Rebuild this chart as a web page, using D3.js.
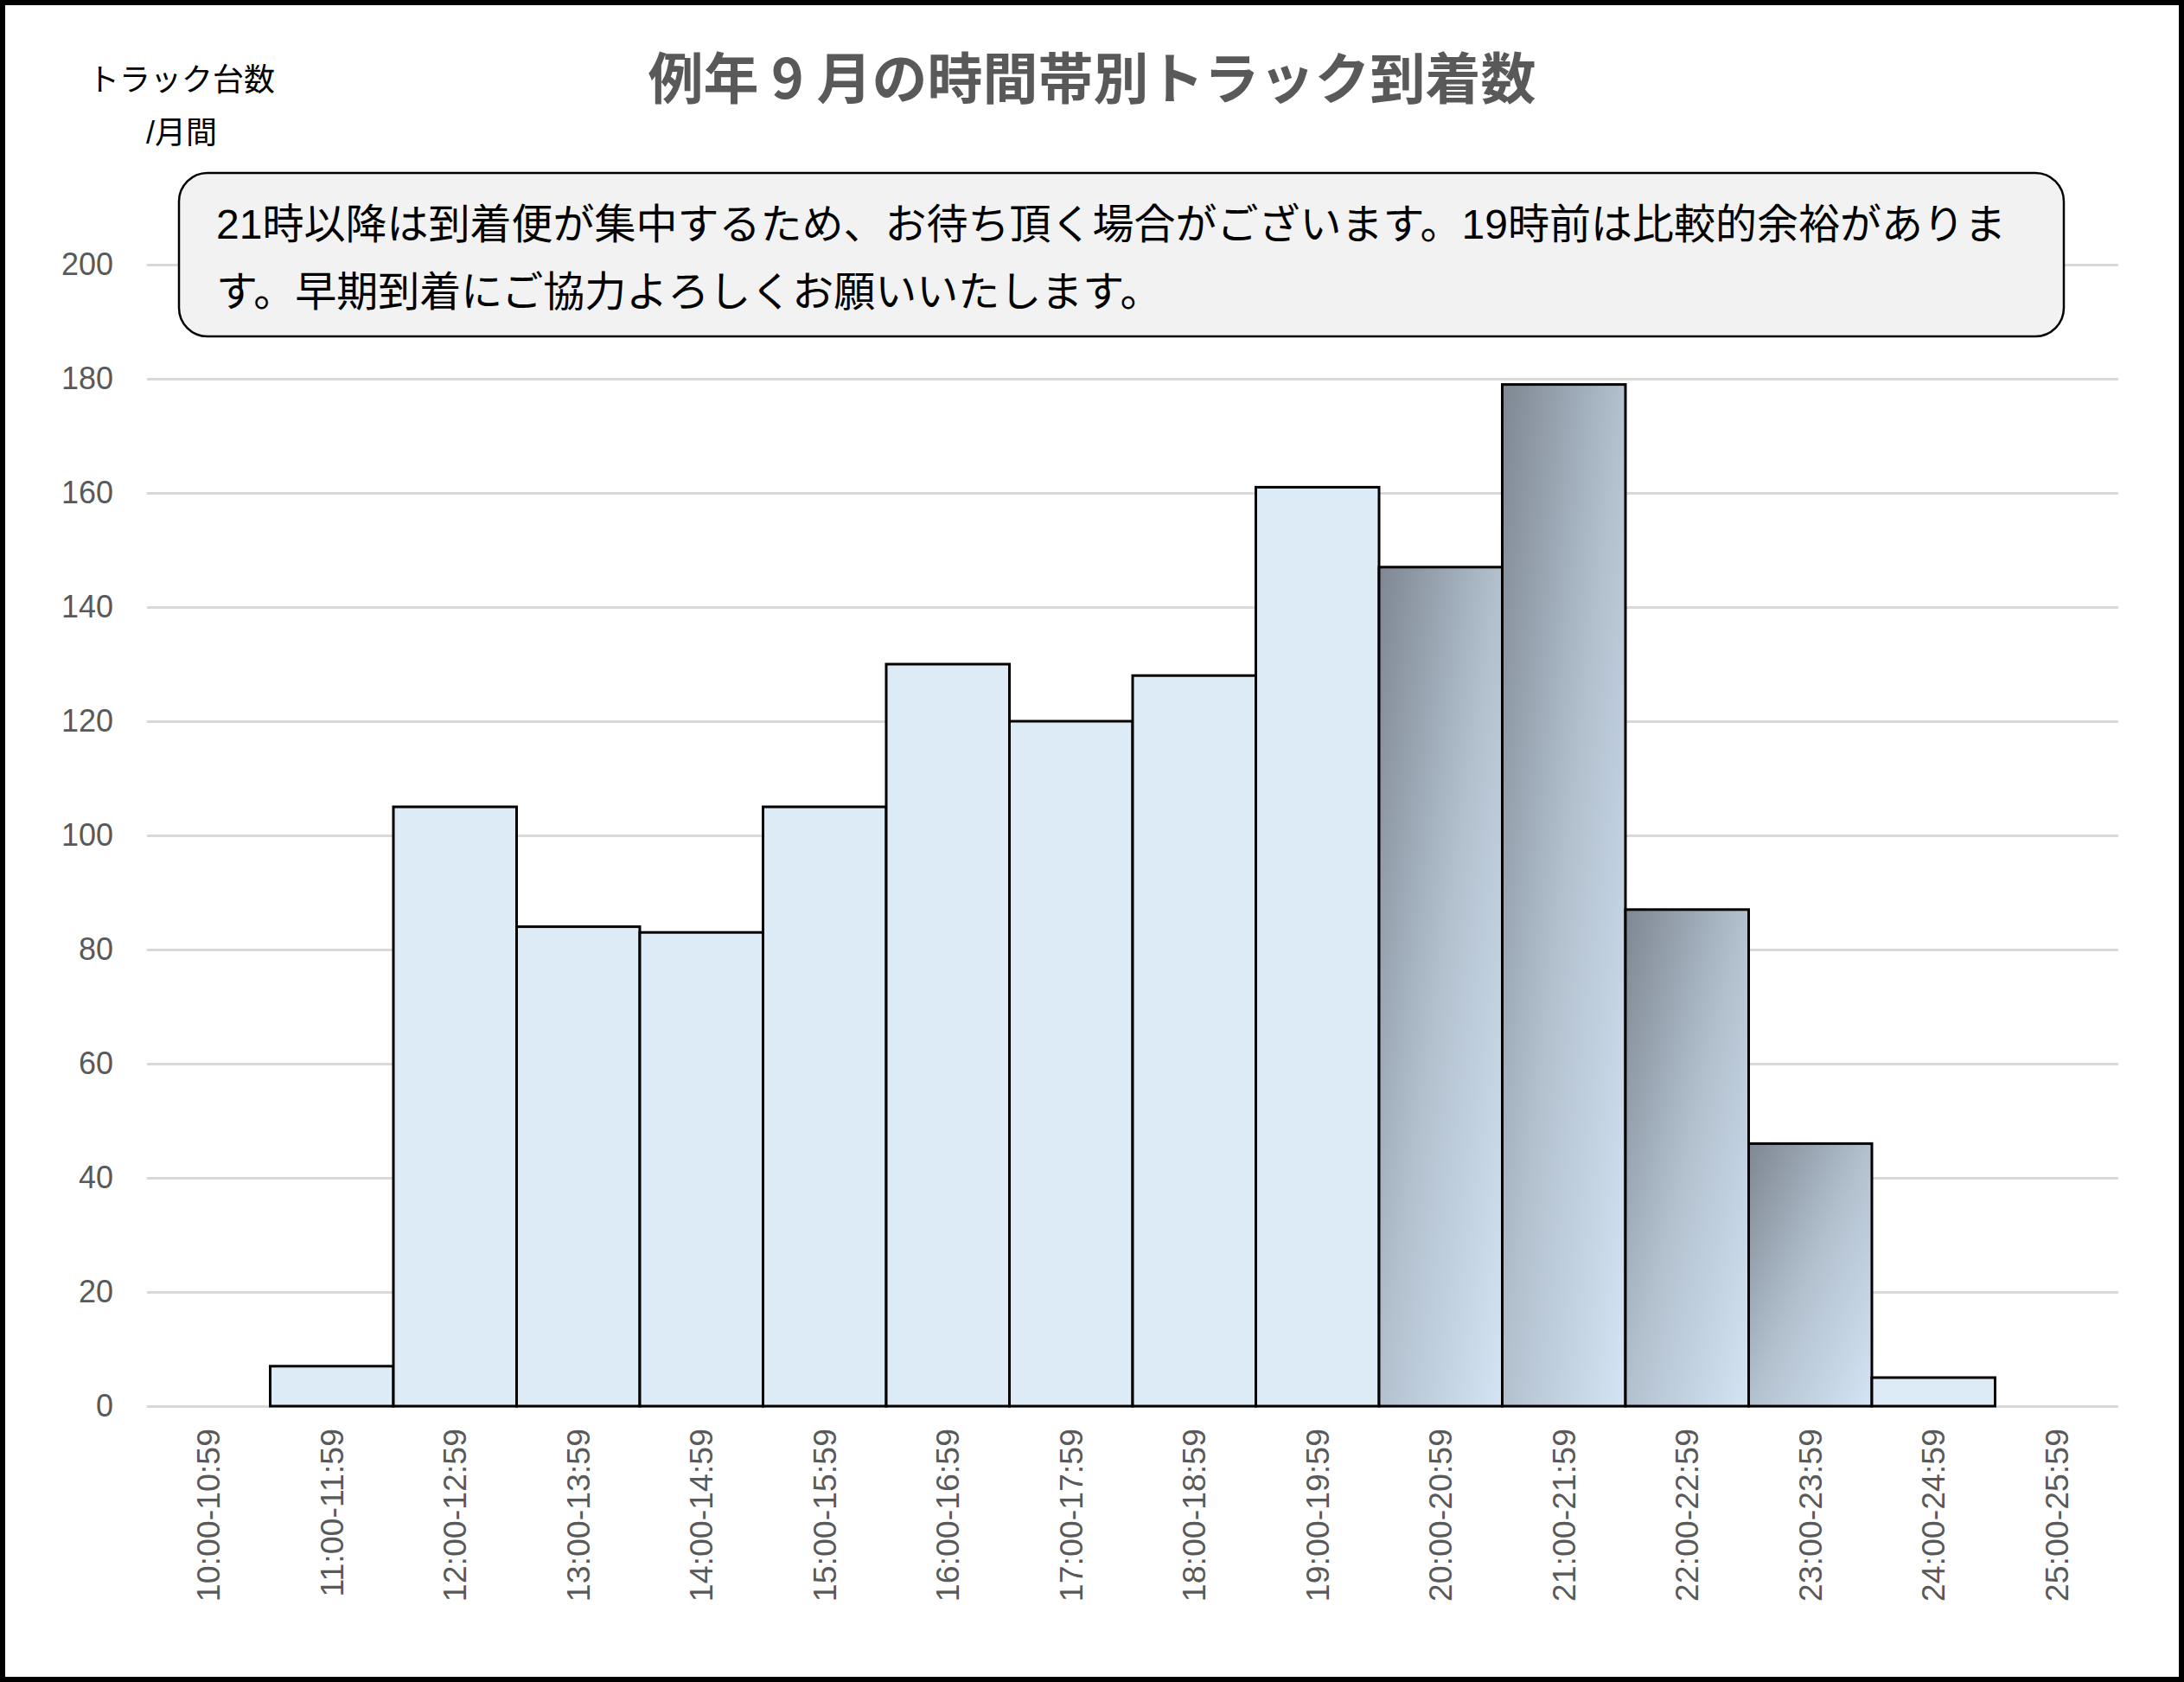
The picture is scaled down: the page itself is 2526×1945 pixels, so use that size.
<!DOCTYPE html>
<html lang="ja">
<head>
<meta charset="utf-8">
<title>例年9月の時間帯別トラック到着数</title>
<script src="https://cdn.jsdelivr.net/npm/d3@7"></script>
<style>
    body { margin: 0; background: #fff; }
    svg { display: block; }
    text { font-family: "Liberation Sans", "Noto Sans CJK JP", sans-serif; }
</style>
</head>
<body>
<div id="chart"></div>
<script>
// Data
const timeSlots = [
    '10:00-10:59', '11:00-11:59', '12:00-12:59', '13:00-13:59',
    '14:00-14:59', '15:00-15:59', '16:00-16:59', '17:00-17:59',
    '18:00-18:59', '19:00-19:59', '20:00-20:59', '21:00-21:59',
    '22:00-22:59', '23:00-23:59', '24:00-24:59', '25:00-25:59'
];
const truckCounts = [0, 7, 105, 84, 83, 105, 130, 120, 128, 161, 147, 179, 87, 46, 5, 0];
const peakSlots = ['20:00-20:59', '21:00-21:59', '22:00-22:59', '23:00-23:59'];
const yTicks = [0, 20, 40, 60, 80, 100, 120, 140, 160, 180, 200];

const titleText = '例年 9 月の時間帯別トラック到着数';
const yTitleLines = ['トラック台数', '/月間'];
const noteLines = [
    '21時以降は到着便が集中するため、お待ち頂く場合がございます。19時前は比較的余裕がありま',
    'す。早期到着にご協力よろしくお願いいたします。'
];

const W = 2526, H = 1945;
const margin = { top: 306, right: 76, bottom: 319, left: 170 };
const width = W - margin.left - margin.right;
const height = H - margin.top - margin.bottom;

const data = timeSlots.map((slot, i) => ({ slot: slot, count: truckCounts[i] }));

const svg = d3.select('#chart')
    .append('svg')
    .attr('width', W)
    .attr('height', H);

svg.append('rect')
    .attr('width', W)
    .attr('height', H)
    .attr('fill', '#fff');

// Diagonal gradient for the peak hours
const defs = svg.append('defs');
const grad = defs.append('linearGradient')
    .attr('id', 'peakGrad')
    .attr('x1', 0).attr('y1', 0)
    .attr('x2', 1).attr('y2', 1);
grad.append('stop').attr('offset', '0%').attr('stop-color', '#7e8792');
grad.append('stop').attr('offset', '50%').attr('stop-color', '#b3c1cf');
grad.append('stop').attr('offset', '100%').attr('stop-color', '#d4e4f4');

const g = svg.append('g')
    .attr('transform', `translate(${margin.left}, ${margin.top})`);

// Scales
const x = d3.scaleBand()
    .domain(timeSlots)
    .range([0, width])
    .padding(0);

const y = d3.scaleLinear()
    .domain([0, 200])
    .range([height, 0]);

// Y axis with gridlines
const yAxis = g.append('g')
    .call(d3.axisLeft(y)
        .tickValues(yTicks)
        .tickSize(-width)
        .tickPadding(39));
yAxis.select('.domain').remove();
yAxis.selectAll('.tick line')
    .attr('stroke', '#d9d9d9')
    .attr('stroke-width', 3);
yAxis.selectAll('.tick text')
    .attr('fill', '#595959')
    .style('font-size', '36px');

// X axis with rotated labels
const xAxis = g.append('g')
    .attr('transform', `translate(0, ${height})`)
    .call(d3.axisBottom(x).tickSize(0));
xAxis.select('.domain').remove();
xAxis.selectAll('.tick text')
    .attr('transform', 'rotate(-90)')
    .attr('text-anchor', 'end')
    .attr('x', -26)
    .attr('y', 0)
    .attr('dy', '0.35em')
    .attr('fill', '#595959')
    .style('font-size', '37.5px');

// Bars
g.selectAll('.bar')
    .data(data.filter(d => d.count > 0))
    .enter()
    .append('rect')
    .attr('class', 'bar')
    .attr('x', d => x(d.slot))
    .attr('y', d => y(d.count))
    .attr('width', x.bandwidth())
    .attr('height', d => height - y(d.count))
    .attr('fill', d => peakSlots.includes(d.slot) ? 'url(#peakGrad)' : '#ddebf7')
    .attr('stroke', '#000')
    .attr('stroke-width', 3);

// Title
svg.append('text')
    .attr('x', W / 2)
    .attr('y', 114)
    .attr('text-anchor', 'middle')
    .attr('fill', '#595959')
    .style('font-family', '"Noto Sans CJK JP", sans-serif')
    .style('font-weight', 'bold')
    .style('font-size', '64px')
    .text(titleText);

// Y axis title
svg.append('g')
    .selectAll('text')
    .data(yTitleLines)
    .enter()
    .append('text')
    .attr('x', 210)
    .attr('y', (d, i) => 105 + i * 61)
    .attr('text-anchor', 'middle')
    .attr('fill', '#000')
    .style('font-size', '36px')
    .text(d => d);

// Annotation box
const note = svg.append('g');
note.append('rect')
    .attr('x', 207)
    .attr('y', 200)
    .attr('width', 2180)
    .attr('height', 189)
    .attr('rx', 33)
    .attr('fill', '#f2f2f2')
    .attr('stroke', '#000')
    .attr('stroke-width', 2.5);
note.selectAll('text')
    .data(noteLines)
    .enter()
    .append('text')
    .attr('x', 250)
    .attr('y', (d, i) => 276 + i * 78)
    .attr('fill', '#000')
    .style('font-size', '48px')
    .text(d => d);

// Outer frame
svg.append('rect')
    .attr('x', 3)
    .attr('y', 3)
    .attr('width', W - 6)
    .attr('height', H - 6)
    .attr('fill', 'none')
    .attr('stroke', '#000')
    .attr('stroke-width', 6);
</script>
</body>
</html>
